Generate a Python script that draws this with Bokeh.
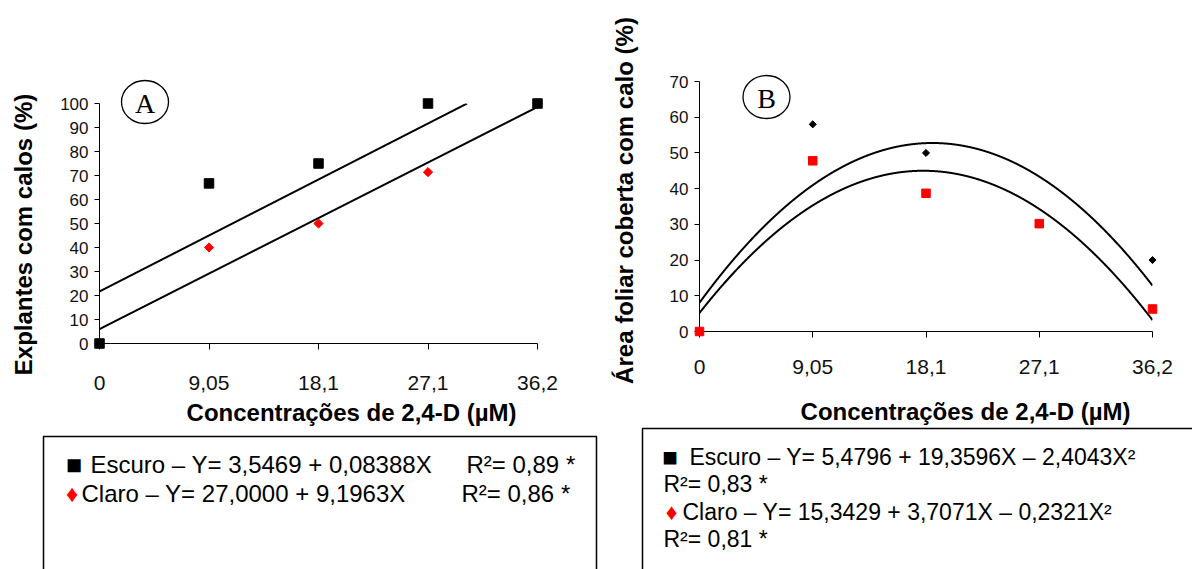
import numpy as np
from bokeh.plotting import figure
from bokeh.models import Range1d, FixedTicker
from bokeh.core.properties import value
from bokeh.layouts import row
from bokeh.embed import file_html
from bokeh.resources import INLINE

# ---------------- data ----------------
conc_labels = ["0", "9,05", "18,1", "27,1", "36,2"]
a_escuro = [0, 66.7, 75, 100, 100]
a_claro = [0, 40, 50, 71.4, 100]
b_escuro = [0, 58, 50, 30, 20]
b_claro = [0, 47.8, 38.7, 30.2, 6.3]
a_yticks = list(range(0, 101, 10))
b_yticks = list(range(0, 71, 10))
a_ylabel = "Explantes com calos (%)"
b_ylabel = "Área foliar coberta com calo (%)"
xlabel = "Concentrações de 2,4-D (µM)"
a_leg_eq = ["Escuro – Y= 3,5469 + 0,08388X", "Claro – Y= 27,0000 + 9,1963X"]
a_leg_r2 = ["R²= 0,89 *", "R²= 0,86 *"]
b_leg_eq = ["Escuro – Y= 5,4796 + 19,3596X – 2,4043X²", "Claro – Y= 15,3429 + 3,7071X – 0,2321X²"]
b_leg_r2 = ["R²= 0,83 *", "R²= 0,81 *"]

FONT = "Liberation Sans"
idx = list(range(len(conc_labels)))
H = 569


class Panel:
    def __init__(self, page_x0, width, fl, fr, ft, fb, ymax, yticks, standoff):
        # frame edges given in page pixels
        self.fl, self.fr, self.ft, self.fb = fl, fr, ft, fb
        self.ymax = ymax
        p = figure(width=width, height=H, x_range=Range1d(0, len(idx) - 1),
                   y_range=Range1d(0, ymax), output_backend="svg",
                   toolbar_location=None, frame_align=False,
                   min_border_left=fl - page_x0, min_border_right=page_x0 + width - fr,
                   min_border_top=ft, min_border_bottom=H - fb)
        p.xgrid.visible = False
        p.ygrid.visible = False
        p.outline_line_color = None
        p.background_fill_color = "white"
        p.border_fill_color = "white"
        for ax in (p.xaxis, p.yaxis):
            ax.axis_line_color = "black"
            ax.axis_line_width = 1
            ax.major_tick_line_color = "black"
            ax.minor_tick_line_color = None
            ax.major_tick_in = 0
            ax.major_label_text_font = FONT
            ax.major_label_text_color = "#111111"
        p.xaxis.ticker = FixedTicker(ticks=idx)
        p.xaxis.major_label_overrides = {i: lab for i, lab in zip(idx, conc_labels)}
        p.xaxis.major_tick_out = 6
        p.xaxis.major_label_standoff = standoff
        p.xaxis.major_label_text_font_size = "21px"
        p.yaxis.ticker = FixedTicker(ticks=yticks)
        p.yaxis.major_tick_out = 5
        p.yaxis.major_label_standoff = 6
        p.yaxis.major_label_text_font_size = "17px"
        self.p = p

    def dx(self, px):
        return (px - self.fl) / (self.fr - self.fl) * (len(idx) - 1)

    def dy(self, py):
        return (self.fb - py) / (self.fb - self.ft) * self.ymax

    def fit(self, ys, deg):
        t = np.linspace(0, len(idx) - 1, 2000)
        yv = np.polyval(np.polyfit(idx, ys, deg), t)
        keep = yv <= self.ymax
        self.p.line(t[keep], yv[keep], line_color="black", line_width=2)

    def text(self, px, py, s, size="24px", color="black", bold=False, angle=0.0,
             align="left", font=FONT):
        self.p.text(x=[self.dx(px)], y=[self.dy(py)], text=[s], text_font=value(font),
                    text_font_size=value(size), text_color=color,
                    text_font_style=value("bold" if bold else "normal"),
                    angle=angle, text_align=value(align), text_baseline=value("middle"),
                    level="overlay")

    def badge(self, px, py, s):
        self.p.ellipse(x=[self.dx(px)], y=[self.dy(py)], width=47, height=43,
                       width_units="screen", height_units="screen", fill_color=None,
                       line_color="black", line_width=1.3, level="overlay")
        self.text(px, py + 1, s, size="28px", align="center", font="Liberation Serif")

    def box(self, left, top, right):
        self.p.line(x=[self.dx(left), self.dx(left), self.dx(right), self.dx(right)],
                    y=[self.dy(H + 20), self.dy(top), self.dy(top), self.dy(H + 20)],
                    line_color="black", line_width=1.5, level="overlay")


# ---------------- panel A ----------------
A = Panel(0, 608, 99, 537, 103, 343, 100, a_yticks, 26)
A.fit(a_escuro, 1)
A.fit(a_claro, 1)
A.p.scatter(idx, a_claro, marker="square", angle=np.pi / 4, size=6.5, color="red", level="overlay")
A.p.scatter(idx, a_escuro, marker="square", size=9.5, color="black", level="overlay")
A.badge(144.5, 101.5, "A")
A.text(351, 412, xlabel, bold=True, align="center")
A.text(23, 234, a_ylabel, bold=True, align="center", angle=np.pi / 2)
A.box(43, 436, 596)
a_rows = [464, 493]
A.text(73.5, a_rows[0], "■", size="27px", align="center")
A.text(90, a_rows[0], a_leg_eq[0])
A.text(466, a_rows[0], a_leg_r2[0])
A.text(71.5, a_rows[1], "♦", color="red", align="center")
A.text(81, a_rows[1], a_leg_eq[1])
A.text(461, a_rows[1], a_leg_r2[1])

# ---------------- panel B ----------------
B = Panel(608, 584, 699, 1152, 81, 331, 70, b_yticks, 22)
B.fit(b_escuro, 2)
B.fit(b_claro, 2)
B.p.scatter(idx, b_escuro, marker="square", angle=np.pi / 4, size=5, color="black", level="overlay")
B.p.scatter(idx, b_claro, marker="square", size=8.5, color="red", level="overlay")
B.badge(766, 96.5, "B")
B.text(965, 411, xlabel, bold=True, align="center")
B.text(624, 200, b_ylabel, bold=True, align="center", angle=np.pi / 2)
B.box(642, 428, 1230)
b_rows = [456, 483.5, 511, 538.5]
B.text(669.5, b_rows[0], "■", size="26px", align="center")
B.text(689, b_rows[0], b_leg_eq[0], size="23px")
B.text(663, b_rows[1], b_leg_r2[0], size="23px")
B.text(671, b_rows[2], "♦", size="23px", color="red", align="center")
B.text(682, b_rows[2], b_leg_eq[1], size="23px")
B.text(663, b_rows[3], b_leg_r2[1], size="23px")

layout = row(A.p, B.p)
open("out.html", "w").write(file_html(layout, INLINE))
